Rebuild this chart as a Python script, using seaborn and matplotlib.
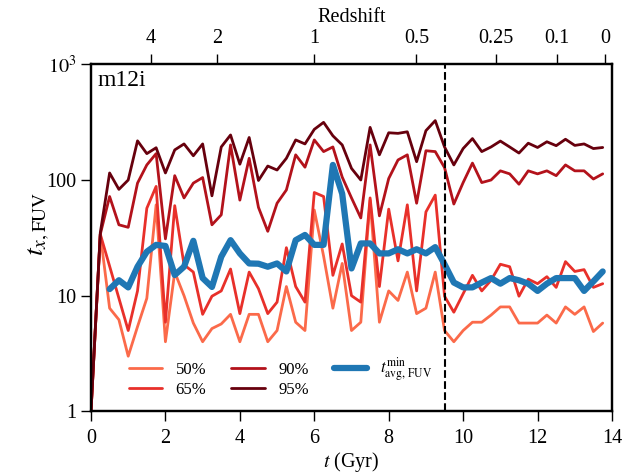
import matplotlib
matplotlib.use("Agg")
import matplotlib.pyplot as plt
from matplotlib.ticker import NullFormatter, LogLocator
import seaborn as sns

# Snapshot times (Gyr)
time_gyr = [0.0, 0.25, 0.5, 0.75, 1.0, 1.25, 1.5, 1.75, 2.0, 2.25, 2.5, 2.75,
            3.0, 3.25, 3.5, 3.75, 4.0, 4.25, 4.5, 4.75, 5.0, 5.25, 5.5, 5.75,
            6.0, 6.25, 6.5, 6.75, 7.0, 7.25, 7.5, 7.75, 8.0, 8.25, 8.5, 8.75,
            9.0, 9.25, 9.5, 9.75, 10.0, 10.25, 10.5, 10.75, 11.0, 11.25, 11.5,
            11.75, 12.0, 12.25, 12.5, 12.75, 13.0, 13.25, 13.5, 13.75]

# Percentile timescales t_x,FUV (Myr)
p50 = [1, 34, 7.8, 6.2, 3.0, 5.4, 9.5, 61, 4.0, 16, 10, 5.8, 4.0, 5.2, 5.7,
       6.9, 4.0, 6.9, 6.9, 4.0, 5.0, 12, 5.9, 5.0, 55, 22, 7.8, 19, 5.0, 5.9,
       67, 5.9, 11, 9.1, 16, 7.0, 7.8, 16, 5.0, 4.0, 5.0, 5.9, 5.9, 6.8, 8.0,
       8.0, 5.8, 5.8, 5.8, 6.8, 5.8, 8.0, 6.9, 8.0, 4.9, 5.8]
p65 = [1, 34, 18, 9.5, 5.0, 11, 57, 88, 5.9, 60, 18.5, 16, 6.9, 9.9, 11, 17,
       7.0, 16, 11.5, 7.0, 8.8, 26, 12, 8.8, 78, 72, 15, 28, 10, 8.8, 70, 12,
       56, 20, 61, 11, 53, 74, 9.9, 7.2, 10.4, 15, 11, 13.6, 18.7, 17.8, 9.9,
       13.9, 12.7, 14.6, 11.8, 19.7, 16.2, 16.8, 11.8, 12.7]
p90 = [1, 34, 72, 41, 39, 94, 135, 169, 31, 109, 70, 94, 105, 41, 50, 201,
       67, 154, 58, 36, 63, 82, 165, 129, 222, 176, 193, 106, 70, 47, 201, 49,
       103, 149, 165, 63, 179, 176, 128, 62, 95, 140, 95, 100, 120, 113, 92,
       120, 113, 120, 109, 135, 120, 120, 102, 113]
p95 = [1, 35, 115, 83, 100, 218, 169, 190, 115, 182, 205, 162, 205, 73, 193,
       245, 137, 233, 99, 132, 122, 154, 222, 205, 274, 315, 241, 201, 126,
       100, 285, 165, 256, 253, 261, 144, 267, 326, 193, 135, 187, 228, 176,
       193, 217, 193, 171, 208, 191, 214, 198, 225, 199, 205, 187, 191]

# Minimum averaging timescale, defined from t = 0.5 Gyr onward
tavg_time = time_gyr[2:]
tavg_min = [11.4, 13.6, 11.8, 17.8, 24, 27.5, 26.9, 15.1, 17.8, 29.8, 14.2,
            11.9, 21.7, 30.2, 23.2, 19.0, 18.9, 17.8, 19.0, 16.2, 30.2, 33.5,
            27.5, 27.5, 135, 76, 17.2, 28.3, 28.3, 23.2, 23.2, 25.2, 23.2,
            25.2, 23.2, 26.3, 18.7, 13.0, 11.8, 11.8, 13.0, 14.2, 12.7, 14.2,
            13.6, 12.7, 11.0, 12.7, 14.2, 14.2, 14.2, 11.0, 13.3, 16.2]

series_labels = ["50%", "65%", "90%", "95%"]
series_values = [p50, p65, p90, p95]
series_colors = ["#fb6a4a", "#e8302a", "#b3121b", "#67000d"]

# Redshift axis
z_tick_times = [1.605, 3.395, 6.0, 8.745, 10.88, 12.52, 13.82]
z_tick_labels = ["4", "2", "1", "0.5", "0.25", "0.1", "0"]

t_transition = 9.5

sns.set_style("ticks")
plt.rcParams["font.family"] = ["Liberation Serif", "DejaVu Serif"]
plt.rcParams["mathtext.fontset"] = "stix"
plt.rcParams["axes.edgecolor"] = "black"
plt.rcParams["xtick.color"] = "black"
plt.rcParams["ytick.color"] = "black"
plt.rcParams["text.color"] = "black"
plt.rcParams["axes.labelcolor"] = "black"

fig = plt.figure(figsize=(6.41, 4.74), dpi=100)
ax = fig.add_axes([91 / 641, 1 - 411.4 / 474, (612 - 91) / 641, (411.4 - 64.3) / 474])

for lab, vals, col in zip(series_labels, series_values, series_colors):
    sns.lineplot(x=time_gyr, y=vals, ax=ax, color=col, linewidth=2.0,
                 label=lab, sort=False, estimator=None)
sns.lineplot(x=tavg_time, y=tavg_min, ax=ax, color="#1f77b4", linewidth=4.5,
             label=r"$t^{\rm min}_{\rm avg,\,FUV}$", sort=False, estimator=None)

ax.axvline(t_transition, color="black", ls="--", lw=1.5)

ax.set_yscale("log")
ax.set_xlim(0, 14)
ax.set_ylim(1, 1000)
ax.set_yticks([1, 10, 100, 1000])
ax.set_yticklabels(["1", "10", "100", r"$10^3$"])
ax.yaxis.set_minor_locator(LogLocator(base=10, subs=range(2, 10)))
ax.yaxis.set_minor_formatter(NullFormatter())
ax.set_xticks(range(0, 15, 2))

for s in ax.spines.values():
    s.set_linewidth(1.6)
    s.set_color("black")
ax.tick_params(axis="both", which="major", direction="out", length=7,
               width=1, labelsize=14.5)
ax.tick_params(axis="x", which="major", pad=6)
ax.tick_params(axis="y", which="minor", direction="out", length=3.5, width=0.8)
ax.tick_params(axis="y", which="both", right=False)

ax.set_xlabel(r"$t$ (Gyr)", fontsize=14.5, labelpad=1)
ax.set_ylabel(r"$t_{x,\rm FUV}$", fontsize=20)
ax.yaxis.set_label_coords(-0.075, 0.54)

ax.text(0.012, 0.985, "m12i", transform=ax.transAxes, ha="left", va="top",
        fontsize=17)

ax2 = ax.twiny()
ax2.set_xlim(ax.get_xlim())
ax2.set_xticks(z_tick_times)
ax2.set_xticklabels(z_tick_labels)
ax2.tick_params(axis="x", which="major", direction="out", length=7, width=1,
                labelsize=14.5, pad=5)
ax2.minorticks_off()
ax2.set_xlabel("Redshift", fontsize=14.5, labelpad=5)
for s in ax2.spines.values():
    s.set_linewidth(1.6)
    s.set_color("black")

ax.legend(ncol=3, loc="lower left", bbox_to_anchor=(0.06, 0.02),
          frameon=False, fontsize=12, handlelength=2.0, columnspacing=1.5,
          labelspacing=0.25, handletextpad=0.8, borderaxespad=0)

fig.savefig("out.png", dpi=100)
